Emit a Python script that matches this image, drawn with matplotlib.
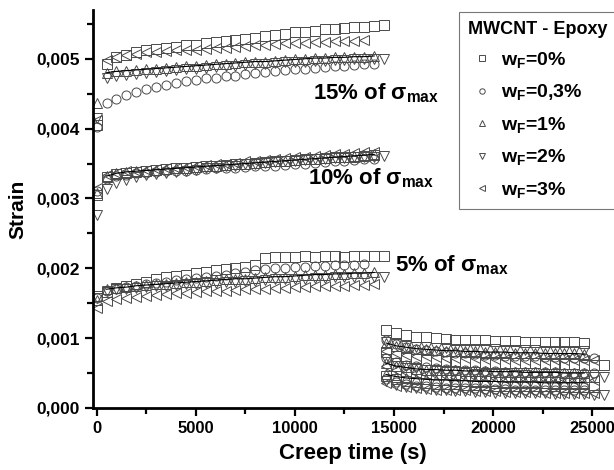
import matplotlib
matplotlib.use("Agg")
import matplotlib.pyplot as plt
from matplotlib.ticker import MultipleLocator, FuncFormatter
import numpy as np

plt.rcParams['font.family'] = ['Liberation Sans', 'DejaVu Sans']
plt.rcParams['font.weight'] = 'bold'
plt.rcParams['mathtext.fontset'] = 'custom'
plt.rcParams['mathtext.rm'] = 'Liberation Sans:bold'
plt.rcParams['mathtext.it'] = 'Liberation Sans:bold'
plt.rcParams['mathtext.bf'] = 'Liberation Sans:bold'

# filler contents and their symbols
fillers = ["0%", "0,3%", "1%", "2%", "3%"]
markers = ["s", "o", "^", "v", "<"]
levels = ["15%", "10%", "5%"]

# sampling times (s)
creep_time = [0, 500, 1000, 1500, 2000, 2500, 3000, 3500, 4000, 4500, 5000,
              5500, 6000, 6500, 7000, 7500, 8000, 8500, 9000, 9500, 10000,
              10500, 11000, 11500, 12000, 12500, 13000, 13500, 14000, 14500]
recovery_time = [14600, 15100, 15600, 16100, 16600, 17100, 17600, 18100,
                 18600, 19100, 19600, 20100, 20600, 21100, 21600, 22100,
                 22600, 23100, 23600, 24100, 24600, 25100, 25600]

# strain x 1e-5, creep under load
creep_15 = [
    [405, 492, 502, 506, 510, 512, 514, 516, 517, 519, 520, 522, 524, 526, 527,
     529, 530, 532, 534, 536, 538, 539, 540, 542, 543, 544, 545, 546, 547, 548],
    [402, 436, 442, 448, 453, 457, 460, 463, 466, 468, 470, 472, 473, 475, 476,
     478, 479, 481, 482, 484, 485, 486, 487, 488, 489, 490, 491, 492, 493],
    [436, 480, 482, 483, 484, 485, 486, 487, 488, 489, 490, 491, 492, 493, 494,
     495, 496, 496, 497, 498, 499, 500, 501, 501, 502, 502, 503, 503, 504],
    [415, 472, 475, 477, 478, 480, 481, 483, 484, 485, 486, 487, 488, 489, 490,
     491, 492, 493, 494, 495, 496, 496, 497, 497, 498, 498, 499, 499, 500, 500],
    [412, 498, 503, 505, 507, 509, 510, 511, 512, 513, 513, 514, 515, 516, 517,
     518, 519, 520, 521, 522, 523, 523, 524, 524, 525, 525, 526, 527],
]
creep_10 = [
    [305, 331, 335, 337, 338, 340, 341, 342, 343, 344, 345, 346, 347, 348, 349,
     350, 351, 352, 353, 354, 355, 356, 357, 358, 359, 359, 360, 361, 362],
    [310, 328, 332, 334, 336, 337, 338, 339, 340, 340, 341, 342, 343, 343, 344,
     345, 346, 346, 347, 348, 349, 350, 351, 352, 353, 354, 355, 356, 357],
    [308, 332, 336, 338, 339, 340, 341, 342, 343, 344, 345, 346, 347, 348, 349,
     350, 351, 352, 353, 354, 355, 356, 357, 358, 359, 360, 361, 362, 363],
    [276, 314, 322, 327, 330, 333, 335, 337, 338, 340, 341, 343, 344, 346, 347,
     349, 350, 351, 352, 353, 354, 355, 356, 357, 358, 358, 359, 360, 360, 361],
    [315, 333, 337, 339, 340, 341, 342, 343, 344, 345, 346, 348, 349, 350, 351,
     353, 354, 355, 356, 358, 359, 360, 361, 362, 363, 364, 365, 366, 366],
]
creep_5 = [
    [160, 166, 172, 175, 178, 181, 184, 187, 189, 191, 193, 195, 197, 199, 200,
     202, 204, 215, 216, 216, 216, 217, 216, 217, 217, 216, 217, 217, 217, 217],
    [158, 168, 171, 173, 175, 177, 179, 181, 183, 185, 186, 188, 189, 191, 193,
     195, 197, 199, 200, 201, 202, 202, 203, 203, 204, 204, 205, 206],
    [155, 170, 172, 173, 175, 176, 177, 178, 179, 180, 181, 182, 183, 184, 185,
     185, 186, 187, 188, 188, 189, 190, 191, 191, 192, 192, 193, 193, 194],
    [158, 168, 170, 171, 172, 173, 174, 175, 176, 177, 178, 179, 179, 180, 181,
     182, 182, 183, 184, 184, 185, 185, 186, 186, 187, 187, 187, 188, 188, 188],
    [143, 153, 156, 158, 159, 161, 162, 163, 164, 165, 166, 167, 168, 168, 169,
     170, 171, 171, 172, 172, 173, 173, 174, 174, 175, 175, 176, 176, 177],
]

# strain x 1e-5, recovery after unloading
recovery_15 = [
    [112, 107, 104, 102, 101, 100, 99, 98, 98, 97, 97, 96, 96, 96, 95, 95, 95,
     94, 94, 94, 93],
    [98, 92, 88, 85, 83, 81, 80, 79, 78, 77, 76, 76, 75, 75, 74, 74, 73, 73,
     72, 72, 72, 71],
    [93, 89, 87, 85, 84, 83, 82, 82, 81, 81, 80, 80, 80, 79, 79, 79, 78, 78,
     78, 78, 77],
    [95, 91, 89, 88, 87, 86, 86, 85, 85, 84, 84, 84, 83, 83, 83, 83, 82, 82,
     82, 82, 82],
    [82, 78, 76, 75, 74, 73, 72, 72, 71, 71, 70, 70, 70, 69, 69, 69, 69, 68,
     68, 68, 68, 68],
]
recovery_10 = [
    [80, 75, 72, 70, 69, 68, 67, 67, 66, 66, 65, 65, 65, 64, 64, 64, 63, 63,
     63, 63, 62, 62, 62],
    [72, 66, 62, 60, 58, 57, 56, 55, 54, 54, 53, 53, 52, 52, 52, 51, 51, 51,
     50, 50, 50, 50],
    [64, 60, 58, 56, 55, 55, 54, 54, 53, 53, 53, 52, 52, 52, 51, 51, 51, 51,
     50, 50, 50],
    [70, 64, 60, 57, 55, 53, 52, 51, 50, 49, 49, 48, 48, 47, 47, 46, 46, 46,
     45, 45, 45, 44, 44],
    [60, 55, 52, 50, 48, 47, 46, 45, 44, 44, 43, 43, 42, 42, 42, 41, 41, 41,
     41, 40, 40, 40],
]
recovery_5 = [
    [46, 42, 39, 37, 36, 35, 34, 34, 33, 33, 33, 32, 32, 32, 31, 31, 31, 31,
     30, 30, 30, 30],
    [41, 37, 34, 32, 31, 30, 29, 29, 28, 28, 27, 27, 27, 26, 26, 26, 26, 25,
     25, 25, 25],
    [48, 45, 43, 42, 41, 40, 40, 39, 39, 38, 38, 38, 37, 37, 37, 37, 36, 36,
     36, 36, 36],
    [38, 33, 30, 28, 27, 26, 25, 24, 24, 23, 23, 22, 22, 22, 21, 21, 21, 20,
     20, 20, 20, 19, 19],
    [36, 32, 30, 28, 27, 26, 26, 25, 25, 24, 24, 24, 23, 23, 23, 23, 22, 22,
     22, 22, 22, 22],
]


def plot_group(ax, times, group, skip_first, label=False):
    for i, values in enumerate(group):
        t = np.array(times[:len(values)])
        strain = np.array(values) * 1e-5
        ax.plot(t, strain, linestyle="none", marker=markers[i], markersize=6.5,
                markerfacecolor="none", markeredgecolor="#4a4a4a",
                markeredgewidth=0.7,
                label=r"$w_F$=" + fillers[i] if label else None)
        if i == 2:
            # fitted curve through the 1 % samples (instantaneous point left out)
            k = 1 if skip_first else 0
            ax.plot(t[k:], strain[k:], color="black", linewidth=0.8, zorder=3)


def main():
    fig = plt.figure(figsize=(6.14, 4.70), dpi=100)
    ax = fig.add_axes([0.151, 0.132, 0.849, 0.847])

    plot_group(ax, creep_time, creep_15, True, label=True)
    plot_group(ax, creep_time, creep_10, True)
    plot_group(ax, creep_time, creep_5, True)
    plot_group(ax, recovery_time, recovery_15, False)
    plot_group(ax, recovery_time, recovery_10, False)
    plot_group(ax, recovery_time, recovery_5, False)

    ax.text(10900, 0.00451, levels[0] + r" of $\sigma_{max}$", fontsize=16,
            fontweight="bold", va="center")
    ax.text(10650, 0.00329, levels[1] + r" of $\sigma_{max}$", fontsize=16,
            fontweight="bold", va="center")
    ax.text(15050, 0.00204, levels[2] + r" of $\sigma_{max}$", fontsize=16,
            fontweight="bold", va="center")

    ax.set_xlim(-200, 26100)
    ax.set_ylim(0, 0.0057)
    ax.xaxis.set_major_locator(MultipleLocator(5000))
    ax.xaxis.set_minor_locator(MultipleLocator(2500))
    ax.yaxis.set_major_locator(MultipleLocator(0.001))
    ax.yaxis.set_minor_locator(MultipleLocator(0.0005))
    ax.yaxis.set_major_formatter(FuncFormatter(lambda v, p: f"{v:.3f}".replace(".", ",")))
    ax.tick_params(which="major", length=6, width=1.6, direction="out")
    ax.tick_params(which="minor", length=4, width=1.6, direction="out")
    ax.tick_params(axis="y", labelsize=12.5)
    ax.tick_params(axis="x", labelsize=12)
    for s in ["top", "right"]:
        ax.spines[s].set_visible(False)
    for s in ["left", "bottom"]:
        ax.spines[s].set_linewidth(2)
    for lab in ax.get_xticklabels() + ax.get_yticklabels():
        lab.set_fontweight("bold")

    ax.set_xlabel("Creep time (s)", fontsize=16, fontweight="bold", labelpad=5)
    ax.set_ylabel("Strain", fontsize=15, fontweight="bold", labelpad=6)

    leg = ax.legend(loc="upper right", bbox_to_anchor=(1.004, 0.995),
                    borderaxespad=0, title="MWCNT - Epoxy", fontsize=14,
                    markerscale=0.6, frameon=True, fancybox=False,
                    framealpha=1, edgecolor="#777777", labelspacing=0.64,
                    handlelength=1.5, handletextpad=0.2, borderpad=0.45,
                    alignment="left")
    leg.get_title().set_fontweight("bold")
    leg.get_title().set_fontsize(13)
    leg.get_frame().set_linewidth(0.8)

    fig.savefig("out.png", dpi=100)


if __name__ == "__main__":
    main()
